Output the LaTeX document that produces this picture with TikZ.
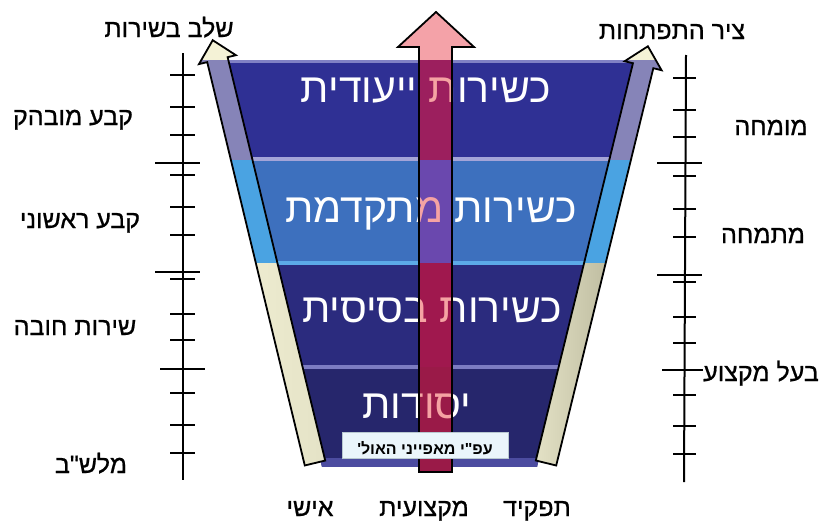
\documentclass[tikz,border=0pt]{standalone}
\usepackage{fontspec}
\newfontfamily\hebfont[Script=Hebrew]{Liberation Sans}
\newfontfamily\heblbl[Script=Hebrew,FakeBold=0.8]{Liberation Sans}
\TeXXeTstate=1
\usetikzlibrary{calc}
\definecolor{bandA}{HTML}{2F3094}
\definecolor{bandB}{HTML}{3D70BE}
\definecolor{bandC}{HTML}{2B2B7E}
\definecolor{bandD}{HTML}{26266C}
\definecolor{sepA}{HTML}{A4A4D8}
\definecolor{sepB}{HTML}{5CAAE8}
\definecolor{sepC}{HTML}{7C7CC2}
\definecolor{botstrip}{HTML}{4C4CA0}
\definecolor{shA}{HTML}{9C1F5E}
\definecolor{shB}{HTML}{6A48AE}
\definecolor{shC}{HTML}{A0184E}
\definecolor{shD}{HTML}{9A1A48}
\definecolor{headpink}{HTML}{F4A2A8}
\definecolor{txtpink}{HTML}{F5A3A3}
\definecolor{cream}{HTML}{F4F2D6}
\definecolor{lav}{HTML}{8684B8}
\definecolor{sky}{HTML}{4AA3E2}
\definecolor{olive}{HTML}{A4A286}
\definecolor{boxfill}{HTML}{EAF5FB}
\definecolor{boxline}{HTML}{B8C8D0}
\newcommand{\rtltext}[1]{\beginR #1\endR}
\begin{document}
\begin{tikzpicture}[x=1pt,y=-1pt,
  lbl/.style={font=\heblbl\fontsize{25}{25}\selectfont, text=black, inner sep=0pt, anchor=base},
  bandtxt/.style={font=\hebfont\fontsize{41}{41}\selectfont, text=white, inner sep=0pt, anchor=base},
  pinktxt/.style={bandtxt, text=txtpink},
  boxtxt/.style={font=\hebfont\bfseries\fontsize{16}{16}\selectfont, text=black, inner sep=0pt, anchor=base},
  major/.style={line width=2.4pt},
  minor/.style={line width=1.2pt},
  outl/.style={draw=black, line width=1.8pt, line join=miter}]
\useasboundingbox (0,0) rectangle (822,522);

% ---------- funnel bands ----------
\coordinate (TL) at (225,60);
\coordinate (TR) at (636,60);
\coordinate (BR) at (537,467);
\coordinate (BL) at (322,467);
\begin{scope}
  \clip (TL) -- (TR) -- (BR) -- (BL) -- cycle;
  \fill[bandA] (0,60) rectangle (822,160);
  \fill[bandB] (0,160) rectangle (822,263);
  \fill[bandC] (0,263) rectangle (822,367);
  \fill[bandD] (0,367) rectangle (822,467);
  \fill[sepA!70!bandA] (0,60) rectangle (822,62.5);
  \fill[sepA] (0,157) rectangle (822,161);
  \fill[sepB] (0,261) rectangle (822,265);
  \fill[sepC] (0,365) rectangle (822,369);
  \fill[botstrip] (0,458) rectangle (822,467);
\end{scope}

% ---------- band texts ----------
\node[bandtxt] (t1) at (426,102) {\rtltext{כשירות ייעודית}};
\node[bandtxt] (t2) at (431,222) {\rtltext{כשירות מתקדמת}};
\node[bandtxt] (t3) at (432,322) {\rtltext{כשירות בסיסית}};
\node[bandtxt] (t4) at (417,418) {\rtltext{יסודות}};

% ---------- central arrow ----------
\fill[headpink] (419,60) -- (419,47) -- (398,47) -- (436,12) -- (474,47) -- (452,47) -- (452,60) -- cycle;
\fill[shA] (419,60) rectangle (452,160);
\fill[shB] (419,160) rectangle (452,263);
\fill[shC] (419,263) rectangle (452,367);
\fill[shD] (419,367) rectangle (452,472);
\begin{scope}
  \clip (420,60) rectangle (451,467);
  \node[pinktxt] (t1p) at (426,102) {\rtltext{כשירות ייעודית}};
  \node[pinktxt] (t2p) at (431,222) {\rtltext{כשירות מתקדמת}};
  \node[pinktxt] (t3p) at (432,322) {\rtltext{כשירות בסיסית}};
  \node[pinktxt] (t4p) at (417,418) {\rtltext{יסודות}};
\end{scope}
\draw[outl] (419,472) -- (419,47) -- (398,47) -- (436,12) -- (474,47) -- (452,47) -- (452,472) -- cycle;

% ---------- note box ----------
\node[draw=boxline, fill=boxfill, line width=1pt, minimum width=166pt, minimum height=26pt, inner sep=0pt] (note) at (425,445) {};
\node[boxtxt] (notetxt) at (425,454) {\rtltext{עפ"י מאפייני האול'}};

% ---------- left side arrow ----------
\begin{scope}[shift={(315,463)}, x=1pt, y=1pt, rotate=13.6]
  \coordinate (la1) at (-10.5,0);
  \coordinate (la2) at (-10.5,415);
  \coordinate (la3) at (-19,415);
  \coordinate (lat) at (0,435);
  \coordinate (la4) at (19,415);
  \coordinate (la5) at (10.5,415);
  \coordinate (la6) at (10.5,0);
\end{scope}
\begin{scope}
  \clip (la1) -- (la2) -- (la3) -- (lat) -- (la4) -- (la5) -- (la6) -- cycle;
  \begin{scope}[shift={(315,463)}, x=1pt, y=1pt, rotate=13.6]
    \shade[left color=cream, middle color=olive, right color=cream!80!olive] (-11,-5) rectangle (11,440);
  \end{scope}
  \fill[cream] (0,0) rectangle (822,60);
  \fill[lav] (0,60) rectangle (822,160);
  \fill[sky] (0,160) rectangle (822,263);
\end{scope}
\draw[outl] (la1) -- (la2) -- (la3) -- (lat) -- (la4) -- (la5) -- (la6) -- cycle;

% ---------- right side arrow ----------
\begin{scope}[shift={(546,463)}, x=1pt, y=1pt, rotate=-13.74]
  \coordinate (ra1) at (-10.5,0);
  \coordinate (ra2) at (-10.5,409);
  \coordinate (ra3) at (-19,409);
  \coordinate (rat) at (0,429);
  \coordinate (ra4) at (19,409);
  \coordinate (ra5) at (10.5,409);
  \coordinate (ra6) at (10.5,0);
\end{scope}
\begin{scope}
  \clip (ra1) -- (ra2) -- (ra3) -- (rat) -- (ra4) -- (ra5) -- (ra6) -- cycle;
  \begin{scope}[shift={(546,463)}, x=1pt, y=1pt, rotate=-13.74]
    \shade[left color=cream!80!olive, middle color=cream, right color=olive] (-11,-5) rectangle (11,440);
  \end{scope}
  \fill[cream] (0,0) rectangle (822,60);
  \fill[lav] (0,60) rectangle (822,160);
  \fill[sky] (0,160) rectangle (822,263);
\end{scope}
\draw[outl] (ra1) -- (ra2) -- (ra3) -- (rat) -- (ra4) -- (ra5) -- (ra6) -- cycle;

% ---------- left scale ----------
\coordinate (ls0) at (183,53);
\coordinate (ls1) at (183,480);
\draw[line width=2pt] (ls0) -- (ls1);
\foreach \y in {163,272} \draw[major] (155,\y) -- (200,\y);
\draw[major] (160,369) -- (205,369);
\foreach \y in {75,107,135,175,207,235,279,314,340,393,425,453}
  \draw[minor] (170,\y) -- (195,\y);

% ---------- right scale ----------
\coordinate (rs0) at (686,55);
\coordinate (rs1) at (684,482);
\draw[line width=2pt] (rs0) -- (rs1);
\foreach \y in {163,275} \draw[major] (657,\y) -- (702,\y);
\draw[major] (662,370) -- (703,370);
\foreach \y in {78,110,137,176,209,237,282,317,343,395,426,454}
  \draw[minor] (673,\y) -- (696,\y);

% ---------- labels ----------
\node[lbl] (stage) at (169,37) {\rtltext{שלב בשירות}};
\node[lbl] (axis) at (672,39) {\rtltext{ציר התפתחות}};
\node[lbl] (k1) at (73,125) {\rtltext{קבע מובהק}};
\node[lbl] (k2) at (80,228) {\rtltext{קבע ראשוני}};
\node[lbl] (k3) at (75,335) {\rtltext{שירות חובה}};
\node[lbl] (k4) at (91,473) {\rtltext{מלש"ב}};
\node[lbl] (m1) at (771,135) {\rtltext{מומחה}};
\node[lbl] (m2) at (763,243) {\rtltext{מתמחה}};
\node[lbl] (m3) at (761,381) {\rtltext{בעל מקצוע}};
\node[lbl] (b1) at (310,516) {\rtltext{אישי}};
\node[lbl] (b2) at (424,516) {\rtltext{מקצועית}};
\node[lbl] (b3) at (537,516) {\rtltext{תפקיד}};
\end{tikzpicture}
\end{document}
